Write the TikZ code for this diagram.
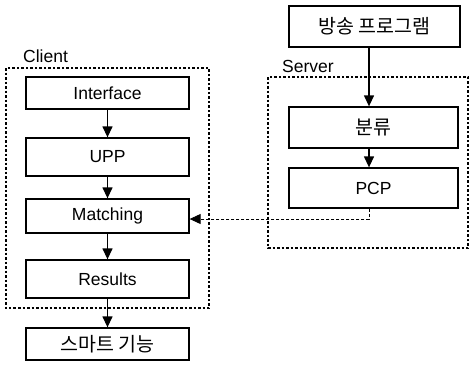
\documentclass[tikz,border=0pt]{standalone}
\usepackage{fontspec}
\setmainfont{Liberation Sans}
\newfontfamily\kr{Noto Sans CJK KR}
\newcommand{\krt}[1]{{\fontsize{19.5}{21}\selectfont\kr #1}}
\usetikzlibrary{arrows.meta,calc}
\begin{document}
\begin{tikzpicture}[x=1pt,y=-1pt,
  box/.style={draw,line width=1.3pt,minimum width=163pt,minimum height=35pt,inner sep=0pt,font=\fontsize{17.5}{19}\selectfont},
  grp/.style={draw,line width=1.8pt,dash pattern=on 2.5pt off 2pt},
  arr/.style={line width=1.3pt,-{Triangle[length=11pt,width=10pt]}},
  lbl/.style={font=\fontsize{17.5}{19}\selectfont,anchor=south west,inner sep=0pt}]
\useasboundingbox (0,0) rectangle (470,367);
% groups
\draw[grp] (6,68) rectangle (209,308);
\draw[grp] (268,77) rectangle (468,248);
\node[lbl] (cl) at (23,63) {Client};
\node[lbl] (sv) at (282,73) {Server};
% client boxes
\node[box,minimum height=32pt] (iface) at (107.5,93) {Interface};
\node[box,minimum height=38pt] (upp) at (107.5,157) {UPP};
\node[box,minimum height=34pt] (match) at (107.5,216) {Matching};
\node[box,minimum height=38pt] (res) at (107.5,279) {Results};
\node[box,minimum height=32pt] (smart) at (107.5,344) {\krt{스마트 기능}};
% server boxes
\node[box,minimum width=171pt,minimum height=41pt] (prog) at (374.5,26.5) {\krt{방송 프로그램}};
\node[box,minimum width=169pt,minimum height=41pt] (cls) at (373.5,127.5) {\krt{분류}};
\node[box,minimum width=169pt,minimum height=40pt] (pcp) at (373.5,188) {PCP};
% arrows
\draw[arr] (iface) -- (upp);
\draw[arr] (upp) -- (match);
\draw[arr] (match) -- (res);
\draw[arr] (res) -- (smart);
\draw[arr] (prog.south -| 369,0) -- (cls.north -| 369,0);
\draw[arr] (cls.south -| 369,0) -- (pcp.north -| 369,0);
\coordinate (bend) at (369,219);
\draw[line width=0.9pt,dash pattern=on 3pt off 2pt,-{Triangle[length=11pt,width=10pt]}] (pcp.south -| bend) -- (bend) -- (match.east |- bend);
\end{tikzpicture}
\end{document}
